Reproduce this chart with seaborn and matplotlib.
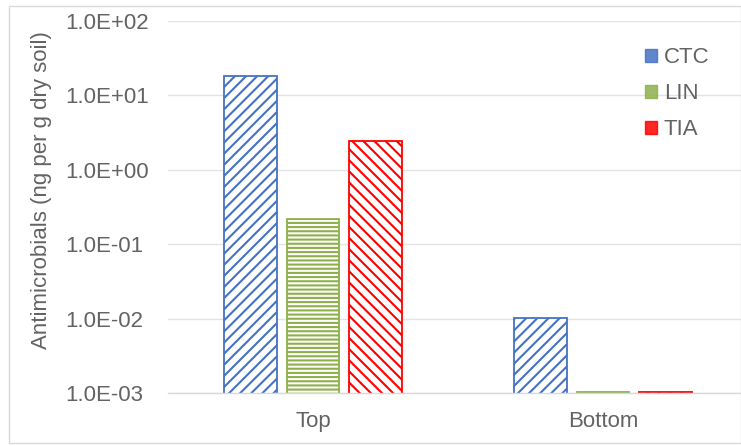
import matplotlib
matplotlib.use("Agg")
import matplotlib.pyplot as plt
from matplotlib.patches import Rectangle, Patch
import seaborn as sns
import pandas as pd

# Antimicrobial concentrations by soil layer (ng per g dry soil)
layers = ["Top", "Bottom"]
compounds = ["CTC", "LIN", "TIA"]
ctc = [18.2, 0.0102]
lin = [0.218, 0.00102]
tia = [2.44, 0.00102]
yticks = [1e-3, 1e-2, 1e-1, 1e0, 1e1, 1e2]
ytick_labels = ["1.0E-03", "1.0E-02", "1.0E-01", "1.0E+00", "1.0E+01", "1.0E+02"]

colors = {"CTC": "#4472C4", "LIN": "#8DB04A", "TIA": "#FF0000"}
hatches = {"CTC": "///", "LIN": "----", "TIA": "\\\\\\"}

df = pd.DataFrame({
    "layer": layers * 3,
    "compound": [c for c in compounds for _ in layers],
    "value": ctc + lin + tia,
})

sns.set_style("white")
plt.rcParams["font.family"] = ["Liberation Sans", "DejaVu Sans"]
plt.rcParams["hatch.linewidth"] = 1.5

FS = 16
W, H = 741, 446
PX = 72 / 100  # points per pixel at 100 dpi
fig = plt.figure(figsize=(W / 100, H / 100), dpi=100)
ax = fig.add_axes([168 / W, 1 - 393 / H, (741 - 168) / W, (393 - 21) / H])
ax.set_yscale("log")

sns.barplot(data=df, x="layer", y="value", hue="compound", order=layers,
            hue_order=compounds, width=0.65, gap=0.157, ax=ax, legend=False)

BASE = 1e-4
for container, comp in zip(ax.containers, compounds):
    for bar in container:
        top = bar.get_y() + bar.get_height()
        bar.set_y(BASE)
        bar.set_height(top - BASE)
        bar.set_facecolor("white")
        bar.set_edgecolor(colors[comp])
        bar.set_hatch(hatches[comp])
        bar.set_linewidth(1.3)

ax.set_ylim(1e-3, 1e2)
ax.set_xlim(-0.5, -0.5 + (741 - 168) / 290)
ax.set_yticks(yticks)
ax.set_yticklabels(ytick_labels)
ax.minorticks_off()
ax.yaxis.grid(True, color="#E3E3E3", linewidth=1)
ax.set_axisbelow(True)
for s in ["left", "right", "top"]:
    ax.spines[s].set_visible(False)
ax.spines["bottom"].set_color("#D9D9D9")
ax.spines["bottom"].set_linewidth(1)
ax.tick_params(axis="both", length=0, labelsize=FS, colors="#636363")
ax.tick_params(axis="x", pad=18 * PX)
ax.tick_params(axis="y", pad=(168 - 65) * PX)
for lbl in ax.get_yticklabels():
    lbl.set_horizontalalignment("left")
ax.set_xlabel("")
ax.set_ylabel("Antimicrobials (ng per g dry soil)", fontsize=FS, color="#636363")
ax.yaxis.set_label_coords(-(168 - 42) / (741 - 168), (393 - 190) / (393 - 21))
ax.yaxis.label.set_verticalalignment("center")

# small pattern swatches read as nearly solid squares
handles = [Patch(facecolor=colors[c], edgecolor=colors[c], alpha=0.85,
                 label=c) for c in compounds]
leg = ax.legend(handles=handles, loc="upper left",
                bbox_to_anchor=((634 - 168) / (741 - 168), 1 - (36 - 21) / (393 - 21)),
                frameon=False, fontsize=FS, labelspacing=0.68, handlelength=0.55,
                handleheight=0.55, handletextpad=0.3, borderpad=0)
for t in leg.get_texts():
    t.set_color("#636363")

# light frame around the chart area
fig.patches.append(Rectangle((9 / W, 1 - 443 / H), (W - 9) / W, (443 - 6) / H,
                             transform=fig.transFigure, fill=False,
                             edgecolor="#D9D9D9", linewidth=1))

fig.savefig("out.png", dpi=100)
